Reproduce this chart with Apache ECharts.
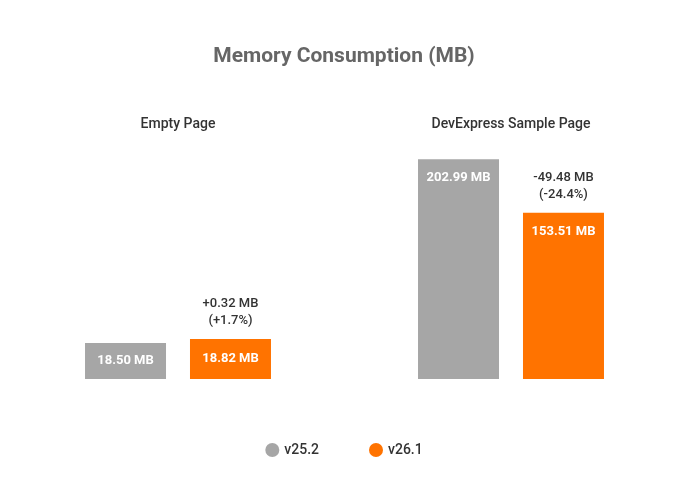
<!DOCTYPE html>
<html>
<head>
<meta charset="utf-8">
<script src="https://cdn.jsdelivr.net/npm/echarts@6/dist/echarts.min.js"></script>
<style>
  html, body { margin: 0; padding: 0; background: #fff; }
  #chart { width: 688px; height: 500px; }
</style>
</head>
<body>
<div id="chart"></div>
<script>
// chart data
const groups = ['Empty Page', 'DevExpress Sample Page']
const seriesNames = ['v25.2', 'v26.1']
const oldValues = [18.50, 202.99]
const newValues = [18.82, 153.51]
const colors = ['#a6a6a6', '#ff7300']

const chart = echarts.init(document.getElementById('chart'))

const fontFamily = 'Roboto, sans-serif'

const deltaText = (i) => {
  const d = newValues[i] - oldValues[i]
  const pct = d / oldValues[i] * 100
  const sign = d >= 0 ? '+' : '-'
  return sign + Math.abs(d).toFixed(2) + ' MB\n(' + sign + Math.abs(pct).toFixed(1) + '%)'
}

const valueLabel = (pos, dist) => ({
  show: true,
  position: pos,
  distance: dist,
  color: '#fff',
  fontFamily,
  fontWeight: 'bold',
  fontSize: 13,
  formatter: (p) => p.value.toFixed(2) + ' MB'
})

// one grid per group, each with its own value scale
const grids = [
  { left: 60, width: 236, top: 159, bottom: 121 },
  { left: 393, width: 236, top: 159, bottom: 121 }
]
const yRanges = [
  { min: 15.62, max: 33.2 },
  { min: 0, max: 203.2 }
]

const series = []
groups.forEach((g, i) => {
  const labelPos = i === 0 ? 'inside' : 'insideTop'
  series.push({
    name: seriesNames[0],
    type: 'bar',
    xAxisIndex: i,
    yAxisIndex: i,
    barWidth: 81,
    barGap: '29.6%',
    data: [oldValues[i]],
    itemStyle: { color: colors[0] },
    label: valueLabel(labelPos, 12)
  })
  series.push({
    name: seriesNames[1],
    type: 'bar',
    xAxisIndex: i,
    yAxisIndex: i,
    barWidth: 81,
    barGap: '29.6%',
    data: [newValues[i]],
    itemStyle: { color: colors[1] },
    label: valueLabel(labelPos, 12),
    markPoint: {
      symbol: 'circle',
      symbolSize: 1,
      itemStyle: { color: 'rgba(0,0,0,0)' },
      data: [{ type: 'max' }],
      label: {
        show: true,
        position: 'top',
        distance: 9,
        color: '#333',
        fontFamily,
        fontWeight: 500,
        fontSize: 13,
        lineHeight: 17,
        formatter: () => deltaText(i)
      }
    }
  })
})

const option = {
  animation: false,
  title: {
    text: 'Memory Consumption (MB)',
    left: 'center',
    top: 41,
    textStyle: {
      color: '#666',
      fontFamily,
      fontWeight: 'bold',
      fontSize: 21
    }
  },
  legend: {
    data: seriesNames,
    bottom: 38,
    left: 'center',
    icon: 'circle',
    itemWidth: 14,
    itemHeight: 14,
    itemGap: 50,
    textStyle: { color: '#333', fontFamily, fontWeight: 500, fontSize: 14 }
  },
  grid: grids,
  xAxis: groups.map((g, i) => ({
    type: 'category',
    gridIndex: i,
    position: 'top',
    data: [g],
    axisLine: { show: false },
    axisTick: { show: false },
    axisLabel: {
      margin: 28,
      color: '#333',
      fontFamily,
      fontWeight: 500,
      fontSize: 14
    }
  })),
  yAxis: groups.map((g, i) => ({
    type: 'value',
    gridIndex: i,
    min: yRanges[i].min,
    max: yRanges[i].max,
    show: false,
    splitLine: { show: false }
  })),
  series
}

chart.setOption(option)
window.addEventListener('resize', () => chart.resize())
</script>
</body>
</html>
